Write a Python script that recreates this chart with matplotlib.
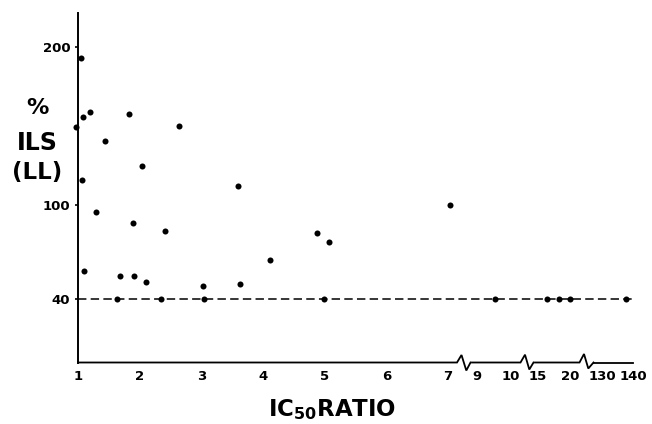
import numpy as np
import matplotlib
matplotlib.use("Agg")
import matplotlib.pyplot as plt
from matplotlib.lines import Line2D

# ---- data ----
x_vals = [0.97, 1.05, 1.08, 1.19, 1.82, 1.43, 2.63, 2.03, 1.06, 3.59, 1.29,
          1.89, 2.41, 4.88, 5.07, 1.09, 1.68, 1.91, 2.10, 4.11, 3.03, 3.63,
          7.03, 1.63, 2.35, 3.04, 4.99, 9.53, 16.4, 18.3, 20.0, 137.7]
y_vals = [149.5, 193.3, 155.9, 159.2, 157.8, 140.4, 150.3, 124.8, 115.6, 111.8,
          95.2, 88.6, 83.6, 82.3, 76.3, 57.9, 55.2, 55.2, 51.0, 65.2, 48.4, 50.0,
          100.2, 40, 40, 40.4, 40, 40, 40, 40, 40, 40]
x_ticks = [1, 2, 3, 4, 5, 6, 7, 9, 10, 15, 20, 130, 140]
x_tick_labels = ["1", "2", "3", "4", "5", "6", "7", "9", "10", "15", "20", "130", "140"]
y_ticks = [40, 100, 200]
y_tick_labels = ["40", "100", "200"]
threshold = 40

# ---- piecewise (broken) x scale ----
_kx = np.array([-1000.0, 7.2, 8.82, 10.3, 14.375, 22.0, 127.1, 10000.0])
_ku = np.array([78 + (-1001) * 61.7, 460.3, 471.0, 521.2, 534.0, 582.8, 593.0,
                633 + 9860 * 3.1])

def fwd(x):
    return np.interp(np.asarray(x, float), _kx, _ku)

def inv(u):
    return np.interp(np.asarray(u, float), _ku, _kx)

W, H = 652, 424
fig = plt.figure(figsize=(W / 100, H / 100), dpi=100)
ax_l, ax_r, ax_b, ax_t = 78, 633, 362.5, 12.7
ax = fig.add_axes([ax_l / W, (H - ax_b) / H, (ax_r - ax_l) / W, (ax_b - ax_t) / H])
ax.set_xscale("function", functions=(fwd, inv))
ax.set_xlim(1, 140)
ax.set_ylim(0, 222)

# threshold dashed line
ax.axhline(threshold, color="black", lw=1.1, dashes=(5.5, 2.8), zorder=2)

# points
ax.scatter(x_vals, y_vals, s=19, color="black", zorder=3, clip_on=False,
           linewidths=0)

# spines
for s in ("top", "right", "bottom"):
    ax.spines[s].set_visible(False)
ax.spines["left"].set_linewidth(1.4)

# bottom axis with break zigzags (pixel-based geometry -> axes fraction)
aw, ah = ax_r - ax_l, ax_b - ax_t
def fx(u):
    return (u - ax_l) / aw
def fy(dp):
    return dp / ah
segments = [
    [(78, 0), (457, 0), (461.5, 7.5), (466.3, -8), (470.5, 0)],
    [(472, 0), (520.5, 0), (525, 7.8), (529.3, -7), (533.5, 0)],
    [(535, 0), (579.5, 0), (584, 8.5), (588.3, -6), (593.5, 0)],
    [(594, 0), (632.7, 0)],
]
for seg in segments:
    xs = [fx(p[0]) for p in seg]
    ys = [fy(p[1]) for p in seg]
    ax.add_line(Line2D(xs, ys, transform=ax.transAxes, color="black",
                       lw=1.3, clip_on=False, solid_joinstyle="miter"))

# ticks
ax.set_xticks(x_ticks)
ax.set_xticklabels(x_tick_labels)
ax.xaxis.set_minor_locator(matplotlib.ticker.NullLocator())
ax.tick_params(axis="x", length=0, pad=5.5, labelsize=9.5)
ax.set_yticks(y_ticks)
ax.set_yticklabels(y_tick_labels)
ax.tick_params(axis="y", length=2.5, width=1.2, pad=3, labelsize=9.5)
for lab in ax.get_xticklabels() + ax.get_yticklabels():
    lab.set_fontweight("bold")
    lab.set_family("DejaVu Sans")

# axis labels
lab_kw = dict(family="DejaVu Sans", weight="bold", ha="center", va="center")
fig.text(37 / W, 1 - 108 / H, "%", fontsize=16, **lab_kw)
fig.text(37 / W, 1 - 143 / H, "ILS", fontsize=17, **lab_kw)
fig.text(37 / W, 1 - 172 / H, "(LL)", fontsize=16.5, **lab_kw)
fig.text(332 / W, 1 - 410 / H, r"IC$_{\mathbf{50}}$RATIO", fontsize=16.5, **lab_kw)

fig.savefig("out.png", dpi=100)
